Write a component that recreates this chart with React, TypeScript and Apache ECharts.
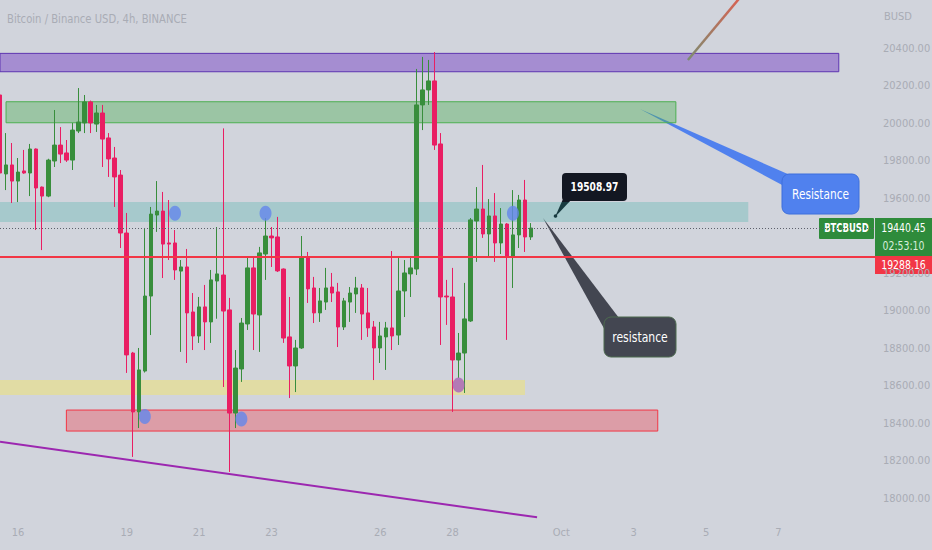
import React, { useEffect, useRef } from "react";
import * as echarts from "echarts";

const FONT = "'DejaVu Sans Condensed', 'Liberation Sans', sans-serif";

// 4h candles starting 2022-09-15 12:00 (UTC), plus empty future slots
const START_TIME = Date.UTC(2022, 8, 15, 12);
const SLOT_COUNT = 146;
const pad = (n: number) => (n < 10 ? "0" + n : "" + n);
const categories: string[] = [];
for (let i = 0; i < SLOT_COUNT; i++) {
  const d = new Date(START_TIME + i * 4 * 3600 * 1000);
  categories.push(`${pad(d.getUTCMonth() + 1)}-${pad(d.getUTCDate())} ${pad(d.getUTCHours())}:00`);
}

const tickLabels: [string, string][] = [
  ["09-16 00:00", "16"],
  ["09-19 00:00", "19"],
  ["09-21 00:00", "21"],
  ["09-23 00:00", "23"],
  ["09-26 00:00", "26"],
  ["09-28 00:00", "28"],
  ["10-01 00:00", "Oct"],
  ["10-03 00:00", "3"],
  ["10-05 00:00", "5"],
  ["10-07 00:00", "7"],
];

// [open, close, low, high]
const ohlc: number[][] = [
  [20150, 19734, 19483, 20187],
  [19729, 19777, 19643, 19947],
  [19777, 19691, 19574, 19894],
  [19691, 19739, 19579, 19814],
  [19745, 19734, 19730, 19857],
  [19734, 19862, 19611, 19889],
  [19862, 19654, 19430, 19865],
  [19659, 19611, 19323, 19662],
  [19611, 19803, 19605, 19810],
  [19798, 19883, 19766, 20070],
  [19883, 19835, 19787, 19979],
  [19841, 19803, 19793, 19910],
  [19803, 19963, 19750, 20001],
  [19958, 20006, 19947, 20187],
  [20001, 20113, 19947, 20150],
  [20113, 20001, 19947, 20120],
  [19995, 20054, 19953, 20097],
  [20054, 19915, 19766, 20097],
  [19921, 19809, 19713, 19947],
  [19814, 19713, 19553, 19873],
  [19723, 19414, 19334, 19750],
  [19414, 18764, 18668, 19521],
  [18774, 18460, 18220, 18780],
  [18460, 18684, 18374, 18801],
  [18678, 19078, 18670, 19441],
  [19078, 19515, 18870, 19553],
  [19510, 19531, 19420, 19691],
  [19531, 19355, 19174, 19633],
  [19361, 19355, 19270, 19590],
  [19361, 19217, 19164, 19430],
  [19211, 19233, 18780, 19270],
  [19233, 18988, 18721, 19329],
  [18993, 18865, 18790, 19094],
  [18865, 19020, 18828, 19073],
  [19020, 18940, 18790, 19137],
  [18940, 19164, 18828, 19217],
  [19158, 19196, 18957, 19446],
  [19190, 18998, 18593, 19972],
  [19004, 18454, 18140, 19068],
  [18454, 18694, 18374, 18790],
  [18689, 18934, 18620, 18961],
  [18929, 19228, 18897, 19286],
  [19228, 18982, 18790, 19286],
  [18977, 19308, 18780, 19340],
  [19302, 19398, 19164, 19494],
  [19398, 19388, 19233, 19446],
  [19393, 19212, 19206, 19500],
  [19222, 18854, 18828, 19225],
  [18860, 18705, 18534, 19073],
  [18705, 18801, 18566, 18844],
  [18801, 19286, 18796, 19398],
  [19286, 19116, 19041, 19313],
  [19121, 18988, 18934, 19180],
  [18988, 19052, 18940, 19121],
  [19046, 19121, 19004, 19228],
  [19126, 19094, 19046, 19201],
  [19100, 18913, 18806, 19148],
  [18913, 19052, 18897, 19068],
  [19046, 19094, 18940, 19126],
  [19089, 19121, 18988, 19180],
  [19121, 18982, 18844, 19142],
  [18988, 18908, 18860, 19121],
  [18913, 18801, 18630, 18945],
  [18801, 18865, 18721, 18940],
  [18860, 18908, 18684, 18940],
  [18908, 18865, 18790, 19318],
  [18870, 19105, 18817, 19281],
  [19105, 19201, 18966, 19270],
  [19196, 19228, 19073, 19286],
  [19222, 20097, 19190, 20289],
  [20097, 20177, 19963, 20353],
  [20177, 20225, 20097, 20337],
  [20225, 19883, 19857, 20379],
  [19889, 19073, 18817, 19947],
  [19078, 19073, 18924, 19164],
  [19073, 18737, 18460, 19228],
  [18737, 18774, 18641, 18881],
  [18774, 18956, 18561, 19148],
  [18945, 19484, 18940, 19494],
  [19478, 19542, 19260, 19659],
  [19542, 19409, 19388, 19777],
  [19409, 19505, 19286, 19595],
  [19505, 19361, 19260, 19627],
  [19361, 19462, 19302, 19547],
  [19462, 19286, 18844, 19467],
  [19286, 19404, 19121, 19643],
  [19404, 19590, 19334, 19617],
  [19590, 19393, 19313, 19697],
  [19393, 19440.45, 19377, 19467],
];

// zones: [startSlot, endSlot, topPrice, bottomPrice]
const zonePurple = [0, 139, 20372, 20274];
const zoneGreen = [1, 112, 20114, 20002];
const zoneTeal = [0, 124, 19579, 19473];
const zoneYellow = [0, 87, 18630, 18550];
const zoneRed = [11, 109, 18470, 18358];

// lines
const lastPrice = 19440.45;
const redLevel = 19288.16;
const purpleTrend = [
  [0, 18301],
  [89, 17898],
];
const orangeTrend = [
  [114, 20337],
  [125, 20761],
];

// touch markers: [slot, price]
const blueDots = [
  [29, 19519],
  [44, 19519],
  [85, 19519],
  [24, 18435],
  [40, 18422],
];
const purpleDots = [[76, 18604]];

const yTicks = { min: 17800, max: 20800, interval: 200 };
const yShownRange = [18000, 20400];
const yHidden = [19400];

export default function App() {
  const ref = useRef<HTMLDivElement>(null);

  useEffect(() => {
    if (!ref.current) return;
    const chart = echarts.init(ref.current, undefined, { renderer: "svg" });
    const tickMap = new Map(tickLabels);
    const gray = "#a9acb5";

    const zone = (z: number[], fill: string, border: string) => [
      {
        coord: [categories[z[0]], z[2]],
        itemStyle: { color: fill, borderColor: border, borderWidth: border === "none" ? 0 : 1 },
      },
      { coord: [categories[z[1]], z[3]] },
    ];

    const dot = (d: number[], color: string) => ({
      coord: [categories[d[0]], d[1]],
      symbol: "circle",
      symbolSize: [12, 15],
      itemStyle: { color },
    });

    const label = (text: string, x: number, y: number, font: string, fill: string, sx: number, align = "center") => ({
      type: "text",
      x,
      y,
      scaleX: sx,
      style: { text, fill, font, align, verticalAlign: "middle" },
    });

    const option: any = {
      animation: false,
      backgroundColor: "#d1d4dc",
      textStyle: { fontFamily: FONT },
      grid: {
        left: 0,
        right: 57,
        top: -26.9,
        height: 562.6,
        containLabel: false,
        outerBoundsMode: "none",
      },
      xAxis: {
        type: "category",
        data: categories,
        boundaryGap: false,
        offset: -15.7,
        axisLine: { show: false },
        axisTick: { show: false },
        splitLine: { show: false },
        axisLabel: {
          color: gray,
          fontSize: 11,
          fontFamily: FONT,
          margin: 7,
          interval: (_i: number, v: string) => tickMap.has(v),
          formatter: (v: string) => tickMap.get(v) ?? "",
        },
      },
      yAxis: {
        type: "value",
        position: "right",
        min: yTicks.min,
        max: yTicks.max,
        interval: yTicks.interval,
        axisLine: { show: false },
        axisTick: { show: false },
        splitLine: { show: false },
        axisLabel: {
          color: gray,
          fontSize: 11,
          fontFamily: FONT,
          margin: 8,
          formatter: (v: number) =>
            v < yShownRange[0] || v > yShownRange[1] || yHidden.includes(v) ? "" : v.toFixed(2),
        },
      },
      series: [
        {
          type: "candlestick",
          data: ohlc,
          barWidth: 4,
          itemStyle: {
            color: "#388e3c",
            color0: "#e91e63",
            borderColor: "#388e3c",
            borderColor0: "#e91e63",
            borderWidth: 1,
          },
          markArea: {
            silent: true,
            data: [
              zone(zonePurple, "rgba(149,117,205,0.75)", "#5e35b1"),
              zone(zoneGreen, "rgba(76,175,80,0.4)", "#4caf50"),
              zone(zoneTeal, "rgba(38,166,154,0.25)", "none"),
              zone(zoneYellow, "rgba(255,235,59,0.35)", "none"),
              zone(zoneRed, "rgba(242,54,69,0.35)", "#f23645"),
            ],
          },
          markLine: {
            silent: true,
            symbol: ["none", "none"],
            label: { show: false },
            data: [
              { yAxis: lastPrice, lineStyle: { color: "#5d606b", type: [1, 2], width: 1 } },
              { yAxis: redLevel, lineStyle: { color: "#f23645", type: "solid", width: 2 } },
              [
                { coord: [categories[purpleTrend[0][0]], purpleTrend[0][1]], lineStyle: { color: "#9c27b0", width: 2, type: "solid" } },
                { coord: [categories[purpleTrend[1][0]], purpleTrend[1][1]] },
              ],
              [
                {
                  coord: [categories[orangeTrend[0][0]], orangeTrend[0][1]],
                  lineStyle: {
                    width: 2.5,
                    type: "solid",
                    color: new echarts.graphic.LinearGradient(0, 1, 1, 0, [
                      { offset: 0, color: "#7c8c70" },
                      { offset: 1, color: "#f2564a" },
                    ]),
                  },
                },
                { coord: [categories[orangeTrend[1][0]], orangeTrend[1][1]] },
              ],
            ],
          },
          markPoint: {
            silent: true,
            label: { show: false },
            data: [
              ...blueDots.map((d) => dot(d, "rgba(100,135,235,0.8)")),
              ...purpleDots.map((d) => dot(d, "rgba(170,105,185,0.85)")),
            ],
          },
        },
      ],
      graphic: [
        {
          type: "group",
          z: 100,
          children: [
            label("Bitcoin / Binance USD, 4h, BINANCE", 7, 19, `13px ${FONT}`, gray, 0.86, "left"),
            label("BUSD", 884, 16, `11px ${FONT}`, gray, 1, "left"),
          ],
        },
        // callout: 19508.97
        {
          type: "group",
          z: 100,
          children: [
            { type: "polygon", shape: { points: [[563, 199], [572, 199], [555, 217]] }, style: { fill: "#131722" } },
            { type: "circle", shape: { cx: 555.5, cy: 216, r: 1.8 }, style: { fill: "#131722" } },
            { type: "rect", shape: { x: 562, y: 173, width: 65, height: 28, r: 4 }, style: { fill: "#131722" } },
            label("19508.97", 594.5, 187, `bold 13px ${FONT}`, "#ffffff", 0.78),
          ],
        },
        // callout: Resistance (blue)
        {
          type: "group",
          z: 100,
          children: [
            { type: "polygon", shape: { points: [[640, 109], [784, 186], [790, 175]] }, style: { fill: "#5081ee" } },
            {
              type: "rect",
              shape: { x: 782, y: 174, width: 77, height: 40, r: 7 },
              style: { fill: "#5081ee", stroke: "#3d6fdc", lineWidth: 1 },
            },
            label("Resistance", 820.5, 194, `14px ${FONT}`, "#ffffff", 0.84),
          ],
        },
        // callout: resistance (dark)
        {
          type: "group",
          z: 100,
          children: [
            { type: "polygon", shape: { points: [[543, 218], [606, 332], [619, 318]] }, style: { fill: "#434651" } },
            {
              type: "rect",
              shape: { x: 604, y: 317, width: 72, height: 40, r: 7 },
              style: { fill: "#434651", stroke: "#4d6b4f", lineWidth: 1 },
            },
            label("resistance", 640, 337, `14px ${FONT}`, "#ffffff", 0.86),
          ],
        },
        // price scale labels
        {
          type: "group",
          z: 110,
          children: [
            { type: "rect", shape: { x: 819, y: 218, width: 55, height: 21, r: 1 }, style: { fill: "#2e8b3b" } },
            label("BTCBUSD", 846.5, 228.5, `bold 12px ${FONT}`, "#ffffff", 0.78),
            { type: "rect", shape: { x: 875, y: 218, width: 57, height: 38 }, style: { fill: "#2e8b3b" } },
            label("19440.45", 903.5, 228, `13px ${FONT}`, "#ffffff", 0.8),
            label("02:53:10", 903.5, 246, `13px ${FONT}`, "#d9eedb", 0.8),
            { type: "rect", shape: { x: 875, y: 256, width: 57, height: 18 }, style: { fill: "#f23645" } },
            label("19288.16", 903.5, 265, `13px ${FONT}`, "#ffffff", 0.8),
          ],
        },
      ],
    };

    chart.setOption(option);
    return () => chart.dispose();
  }, []);

  return (
    <div
      ref={ref}
      style={{ position: "fixed", left: 0, top: 0, width: 932, height: 550 }}
    />
  );
}
